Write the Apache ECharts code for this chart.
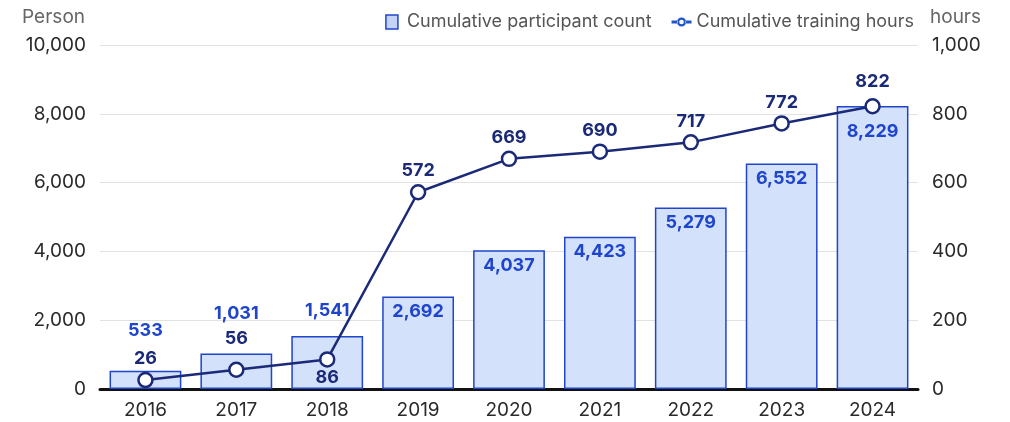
<!DOCTYPE html>
<html>
<head>
<meta charset="utf-8">
<script src="https://cdn.jsdelivr.net/npm/echarts@6/dist/echarts.min.js"></script>
<style>
  html, body { margin: 0; padding: 0; background: #fff; }
  #chart { width: 1010px; height: 422px; }
</style>
</head>
<body>
<div id="chart"></div>
<script>
// Yearly categories and cumulative totals
const years = ['2016', '2017', '2018', '2019', '2020', '2021', '2022', '2023', '2024'];
const participantCounts = [533, 1031, 1541, 2692, 4037, 4423, 5279, 6552, 8229];
const trainingHours = [26, 56, 86, 572, 669, 690, 717, 772, 822];

const FONT = 'Inter, "Noto Sans", sans-serif';
const BLUE = '#1f45cc';
const NAVY = '#1b2a78';
const fmt = v => v.toLocaleString('en-US');

// Legend glyphs: a small filled box, and a short line with a ring in the middle
const BOX_ICON = 'path://M0,0H12V14H0Z';
const RING_ICON = 'path://M0,5.6H6H6V8.4H0Z M14,5.6H20V8.4H14Z ' +
  'M14.6,7A4.6,4.6 0 1,0 5.4,7A4.6,4.6 0 1,0 14.6,7Z M12.3,7A2.3,2.3 0 1,1 7.7,7A2.3,2.3 0 1,1 12.3,7Z';

// Short bars carry their label above the bar, taller ones inside the top
const barLabelAbove = { 0: 31, 1: 31, 2: 16 };
const barData = participantCounts.map((v, i) => {
  if (barLabelAbove[i] !== undefined) {
    return { value: v, label: { position: 'top', distance: barLabelAbove[i] } };
  }
  // last bar: push the label down below the line marker
  return { value: v, label: { position: 'insideTop', distance: i === 8 ? 17 : 6 } };
});

// Point labels sit just above their markers; 2018 goes below, 2017 a little higher
const lineData = trainingHours.map((v, i) => {
  if (i === 2) return { value: v, label: { position: 'bottom', distance: 1 } };
  if (i === 1) return { value: v, label: { position: 'top', distance: 14 } };
  if (i === 8) return { value: v, label: { position: 'top', distance: 7 } };
  return { value: v };
});

const chart = echarts.init(document.getElementById('chart'), null, { renderer: 'canvas' });
chart.setOption({
  animation: false,
  textStyle: { fontFamily: FONT },
  grid: { left: 100, right: 92, top: 45, bottom: 33, containLabel: false },
  legend: {
    top: 8,
    right: 91,
    itemGap: 20,
    itemWidth: 20,
    itemHeight: 14,
    textStyle: { fontFamily: FONT, fontSize: 18, color: '#555' },
    data: [
      { name: 'Cumulative participant count', icon: BOX_ICON,
        itemStyle: { color: '#c5d3f7', borderColor: BLUE, borderWidth: 1.5 } },
      { name: 'Cumulative training hours', icon: RING_ICON,
        itemStyle: { color: '#2155c8', borderWidth: 0 } }
    ]
  },
  xAxis: {
    type: 'category',
    data: years,
    axisLine: { lineStyle: { color: '#111', width: 3 } },
    axisTick: { show: false },
    axisLabel: { fontFamily: FONT, fontSize: 19, color: '#2a2a2a', margin: 12 }
  },
  yAxis: [
    {
      type: 'value',
      name: 'Person',
      nameLocation: 'end',
      nameGap: 18,
      nameTextStyle: { fontFamily: FONT, fontSize: 19, color: '#666', align: 'right', padding: [0, 15, 0, 0] },
      min: 0, max: 10000, interval: 2000,
      axisLabel: { fontFamily: FONT, fontSize: 19, color: '#2a2a2a', margin: 14, formatter: fmt },
      splitLine: { lineStyle: { color: '#e2e2e2', width: 1 } },
      axisLine: { show: false },
      axisTick: { show: false }
    },
    {
      type: 'value',
      name: 'hours',
      nameLocation: 'end',
      nameGap: 18,
      nameTextStyle: { fontFamily: FONT, fontSize: 19, color: '#666', align: 'left', padding: [0, 0, 0, 12] },
      min: 0, max: 1000, interval: 200,
      axisLabel: { fontFamily: FONT, fontSize: 19, color: '#2a2a2a', margin: 14, formatter: fmt },
      splitLine: { show: false },
      axisLine: { show: false },
      axisTick: { show: false }
    }
  ],
  series: [
    {
      name: 'Cumulative participant count',
      type: 'bar',
      yAxisIndex: 0,
      barWidth: '79%',
      data: barData,
      itemStyle: { color: '#d4e1fb', borderColor: BLUE, borderWidth: 1.5 },
      label: {
        show: true,
        fontFamily: FONT, fontSize: 18, fontWeight: 'bold', color: BLUE,
        formatter: p => fmt(p.value)
      },
      z: 2
    },
    {
      name: 'Cumulative training hours',
      type: 'line',
      yAxisIndex: 1,
      data: lineData,
      symbol: 'circle',
      symbolSize: 14,
      showAllSymbol: true,
      lineStyle: { color: NAVY, width: 2.5 },
      itemStyle: { color: '#fff', borderColor: NAVY, borderWidth: 2.5 },
      label: {
        show: true, position: 'top', distance: 4,
        fontFamily: FONT, fontSize: 18, fontWeight: 'bold', color: NAVY
      },
      z: 3
    }
  ]
});
</script>
</body>
</html>
